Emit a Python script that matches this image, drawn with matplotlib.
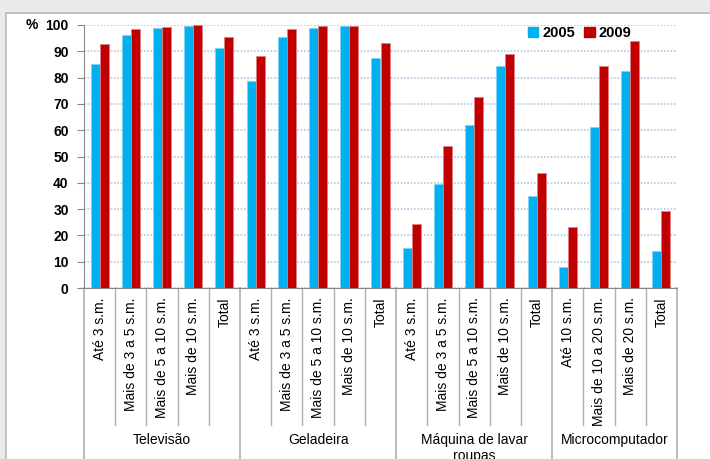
import numpy as np
import matplotlib.pyplot as plt
from matplotlib.patches import Patch, Rectangle

plt.rcParams['font.family'] = ['Liberation Sans', 'DejaVu Sans']

groups = ['Televisão', 'Geladeira', 'Máquina de lavar\nroupas', 'Microcomputador']
cats = [
    ['Até 3 s.m.', 'Mais de 3 a 5 s.m.', 'Mais de 5 a 10 s.m.', 'Mais de 10 s.m.', 'Total'],
    ['Até 3 s.m.', 'Mais de 3 a 5 s.m.', 'Mais de 5 a 10 s.m.', 'Mais de 10 s.m.', 'Total'],
    ['Até 3 s.m.', 'Mais de 3 a 5 s.m.', 'Mais de 5 a 10 s.m.', 'Mais de 10 s.m.', 'Total'],
    ['Até 10 s.m.', 'Mais de 10 a 20 s.m.', 'Mais de 20 s.m.', 'Total'],
]
v2005 = [85.3, 96.2, 98.8, 99.8, 91.1,
         78.8, 95.4, 98.7, 99.7, 87.6,
         15.1, 39.4, 62.1, 84.3, 35.0,
         8.0, 61.3, 82.5, 14.2]
v2009 = [92.7, 98.4, 99.2, 99.9, 95.6,
         88.4, 98.3, 99.5, 99.8, 93.3,
         24.2, 53.9, 72.8, 89.0, 43.6,
         23.3, 84.3, 93.8, 29.2]

blue = '#00b0f0'
red = '#c00000'

fig = plt.figure(figsize=(7.1, 4.59), dpi=100, facecolor='#eaeaea')
# fundo branco com borda cinza
fig.patches.append(Rectangle((6 / 710, -0.1), 1.1, 1 - 13 / 459 + 0.1, transform=fig.transFigure,
                             facecolor='white', edgecolor='#b8b8b8', linewidth=1.2, zorder=-1))

ax = fig.add_axes([84 / 710, 1 - 288 / 459, (677 - 84) / 710, (288 - 25) / 459])
ax.set_facecolor('white')

labels = [c for g in cats for c in g]
n = len(labels)
x = np.arange(n)
w = 0.29
ax.bar(x - w / 2, v2005, w, color=blue, edgecolor='#7fd3f5', linewidth=0.6, zorder=3)
ax.bar(x + w / 2, v2009, w, color=red, edgecolor='#e08080', linewidth=0.6, zorder=3)

ax.set_xlim(-0.5, n - 0.5)
ax.set_ylim(0, 100)
ax.set_yticks(range(0, 101, 10))
ax.set_yticklabels([str(t) for t in range(0, 101, 10)], fontsize=10, fontweight='bold')
ax.tick_params(axis='y', length=5, color='#888888', pad=6)
ax.set_xticks([])
ax.yaxis.grid(True, linestyle=(0, (1, 1)), color='#b4c6e0', linewidth=1.2, zorder=0)
for s in ['top', 'right']:
    ax.spines[s].set_visible(False)
ax.spines['left'].set_color('#888888')
ax.spines['bottom'].set_color('#888888')
ax.spines['bottom'].set_bounds(-0.5 - 6 / 31.2, n - 0.5)

ax.text(-0.5 - 58 / 31.2, 100, '%', fontsize=10, fontweight='bold', ha='left', va='center')

trans = ax.get_xaxis_transform()
for i, lab in enumerate(labels):
    ax.text(i, -0.035, lab, rotation=90, ha='center', va='top', fontsize=10, transform=trans)
# linhas separadoras
bounds = np.cumsum([0] + [len(g) for g in cats]) - 0.5
for b in np.arange(n + 1) - 0.5:
    if b in bounds:
        ax.plot([b, b], [0, -0.8], color='#b0b0b0', linewidth=1.2, transform=trans, clip_on=False)
    else:
        ax.plot([b, b], [0, -0.52], color='#b0b0b0', linewidth=1.0, transform=trans, clip_on=False)
for gi, g in enumerate(groups):
    c = (bounds[gi] + bounds[gi + 1]) / 2
    ax.text(c, -0.55, g, ha='center', va='top', fontsize=10, transform=trans, linespacing=1.2)

handles = [Patch(color=blue, label='2005'), Patch(color=red, label='2009')]
leg = ax.legend(handles=handles, loc='center left', bbox_to_anchor=(0.727, 0.97), ncol=2, frameon=False,
                handlelength=0.7, handleheight=0.7, handletextpad=0.3, columnspacing=0.6,
                prop={'weight': 'bold', 'size': 10.5})

fig.savefig('out.png', dpi=100, facecolor=fig.get_facecolor())
